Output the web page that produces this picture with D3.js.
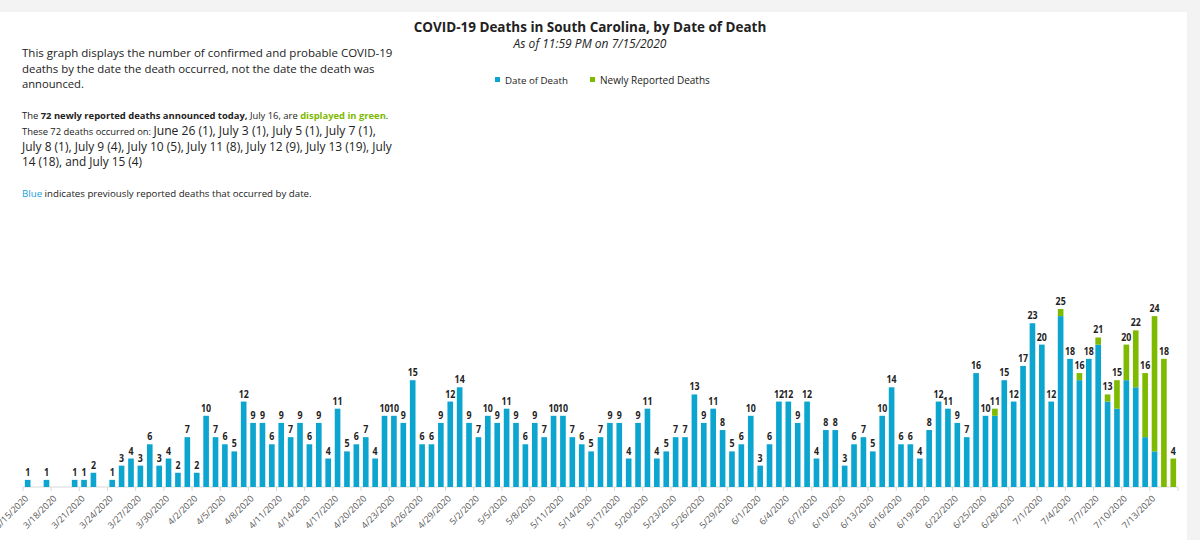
<!DOCTYPE html>
<html><head><meta charset="utf-8">
<script src="https://cdn.jsdelivr.net/npm/d3@7"></script>
<style>
html,body{margin:0;padding:0;background:#fff;}
svg{display:block;font-family:"Open Sans","Noto Sans",sans-serif;}
</style></head>
<body><svg id="c" width="1200" height="540"></svg>
<script>
// ---- data ----
const startDate = "2020-03-15";
const endDate = "2020-07-15";
const blueValues = [
 1,0,1,0,0,1,1,2,0,1,3,4,3,6,3,4,2,            // Mar 15-31
 7,2,10,7,6,5,12,9,9,6,9,7,9,6,9,4,11,5,6,7,4,10,10,9,15,6,6,9,12,14, // Apr
 9,7,10,9,11,9,6,9,7,10,10,7,6,5,7,9,9,4,9,11,4,5,7,7,13,9,11,8,5,6,10, // May
 3,6,12,12,9,12,4,8,8,3,6,7,5,10,14,6,6,4,8,12,11,9,7,16,10,10,15,12,17,23, // Jun
 20,12,24,18,15,18,20,12,11,15,14,7,5,0,0       // Jul 1-15
];
const greenValues = [
 0,0,0,0,0,0,0,0,0,0,0,0,0,0,0,0,0,
 0,0,0,0,0,0,0,0,0,0,0,0,0,0,0,0,0,0,0,0,0,0,0,0,0,0,0,0,0,0,
 0,0,0,0,0,0,0,0,0,0,0,0,0,0,0,0,0,0,0,0,0,0,0,0,0,0,0,0,0,0,0,
 0,0,0,0,0,0,0,0,0,0,0,0,0,0,0,0,0,0,0,0,0,0,0,0,0,1,0,0,0,0,
 0,0,1,0,1,0,1,1,4,5,8,9,19,18,4
];
const seriesNames = ["Date of Death","Newly Reported Deaths"];
const colors = ["#0ba5cf","#7dba00"];
const title = "COVID-19 Deaths in South Carolina, by Date of Death";
const subtitle = "As of 11:59 PM on 7/15/2020";

// ---- build ----
const parse = d3.timeParse("%Y-%m-%d");
const dates = d3.timeDay.range(parse(startDate), d3.timeDay.offset(parse(endDate),1));
const fmt = d => (d.getMonth()+1)+"/"+d.getDate()+"/"+d.getFullYear();
const data = dates.map((d,i)=>({date:d, key:fmt(d), blue:blueValues[i], green:greenValues[i]}));
const tickLabels = data.filter((d,i)=>i%3===0).map(d=>d.key);

const svg = d3.select("#c");
svg.append("rect").attr("x",0).attr("y",0).attr("width",1200).attr("height",12).attr("fill","#f3f3f3");
svg.append("rect").attr("x",1187).attr("y",0).attr("width",13).attr("height",540).attr("fill","#f3f3f3");

function fit(t, target){
  const w = t.node().getComputedTextLength();
  const r = target / w;
  t.selectAll("tspan").each(function(){
    const fs = parseFloat(this.getAttribute("font-size"));
    this.setAttribute("font-size", fs*r);
  });
}
function line(x,y,parts,target){
  const t = svg.append("text").attr("x",x).attr("y",y).attr("fill","#222");
  parts.forEach(p=>{
    const s = t.append("tspan").text(p.t).attr("font-size",p.s||12);
    if(p.b) s.attr("font-weight","bold");
    if(p.c) s.attr("fill",p.c);
    if(p.i) s.attr("font-style","italic");
  });
  if(target) fit(t,target);
  return t;
}
// left text
line(22,57,[{t:"This graph displays the number of confirmed and probable COVID-19",s:12}],371);
line(22,72.5,[{t:"deaths by the date the death occurred, not the date the death was",s:12}],353);
line(22,88,[{t:"announced.",s:12}],62);
line(22,119,[{t:"The ",s:9},{t:"72 newly reported deaths announced today,",s:9,b:1},{t:" July 16, are ",s:9},{t:"displayed in green",s:9,b:1,c:"#7dba00"},{t:".",s:9}],367);
line(22,134.5,[{t:"These 72 deaths occurred on: ",s:9},{t:"June 26 (1), July 3 (1), July 5 (1), July 7 (1),",s:11.6}],354);
line(22,150.5,[{t:"July 8 (1), July 9 (4), July 10 (5), July 11 (8), July 12 (9), July 13 (19), July",s:11.6}],370);
line(22,166,[{t:"14 (18), and July 15 (4)",s:11.6}],120);
line(22,197,[{t:"Blue",s:9,c:"#1aa0d8"},{t:" indicates previously reported deaths that occurred by date.",s:9}],290);

// title
const tt = svg.append("text").attr("x",590).attr("y",32).attr("text-anchor","middle").attr("fill","#222");
tt.append("tspan").attr("font-size",14).attr("font-weight","bold").text(title);
fit(tt,353);
const st = svg.append("text").attr("x",590).attr("y",48).attr("text-anchor","middle").attr("fill","#222");
st.append("tspan").attr("font-size",12).attr("font-style","italic").text(subtitle);
fit(st,153);

// legend
const legX = [495,590], legW=[63,110];
seriesNames.forEach((n,i)=>{
  svg.append("rect").attr("x",legX[i]).attr("y",77).attr("width",5).attr("height",5).attr("fill",colors[i]);
  const lt = svg.append("text").attr("x",legX[i]+10).attr("y",83.5).attr("fill","#222");
  lt.append("tspan").attr("font-size",10.5).text(n);
  fit(lt,legW[i]);
});

// scales
const x = d3.scaleBand().domain(data.map(d=>d.key)).range([23,1178]).padding(0);
const y = d3.scaleLinear().domain([0,25]).range([487,309]);
const bw = x.bandwidth()*0.6, off = x.bandwidth()*0.2;

// axis
const ax = svg.append("g").attr("transform","translate(0,487)");
ax.append("line").attr("x1",23).attr("x2",1178).attr("y1",0).attr("y2",0).attr("stroke","#d9d9d9").attr("stroke-width",1);
tickLabels.forEach(k=>{
  const tx = x(k);
  ax.append("line").attr("x1",tx).attr("x2",tx).attr("y1",0).attr("y2",4).attr("stroke","#d9d9d9");
  ax.append("text").attr("transform",`translate(${tx+6},${12}) rotate(-45)`)
    .attr("text-anchor","end").attr("font-size",9).attr("fill","#555").text(k);
});
ax.append("line").attr("x1",1178).attr("x2",1178).attr("y1",0).attr("y2",4).attr("stroke","#d9d9d9");

// bars
const stack = d3.stack().keys(["blue","green"])(data);
stack.forEach((s,si)=>{
  svg.append("g").selectAll("rect").data(s.filter(d=>d[1]>d[0])).join("rect")
    .attr("x",d=>x(d.data.key)+off).attr("width",bw)
    .attr("y",d=>y(d[1])).attr("height",d=>y(d[0])-y(d[1]))
    .attr("fill",colors[si]);
});
// value labels (horizontally condensed, nudged up on collision)
const sx = 0.8, lblH = 10;
const placed = [];
data.forEach(d=>{
  const v = d.blue+d.green;
  if(v<=0) return;
  const cx = x(d.key)+x.bandwidth()/2;
  let ly = y(v)-4;
  const t = svg.append("text").attr("text-anchor","middle").attr("font-size",11)
    .attr("font-weight","bold").attr("fill","#222").text(v);
  const w = t.node().getComputedTextLength()*sx;
  let moved = true, guard = 0;
  while(moved && guard<10){
    moved = false; guard++;
    for(const p of placed.slice(-3)){
      const dx = Math.abs(cx-p.cx) < (w+p.w)/2 - 1.5;
      const dy = Math.abs(ly-p.y) < lblH - 1;
      if(dx && dy){ ly = p.y - lblH + 3.5; moved = true; }
    }
  }
  t.attr("transform",`translate(${cx},${ly}) scale(${sx},1)`);
  placed.push({cx, y:ly, w});
});
</script></body></html>
